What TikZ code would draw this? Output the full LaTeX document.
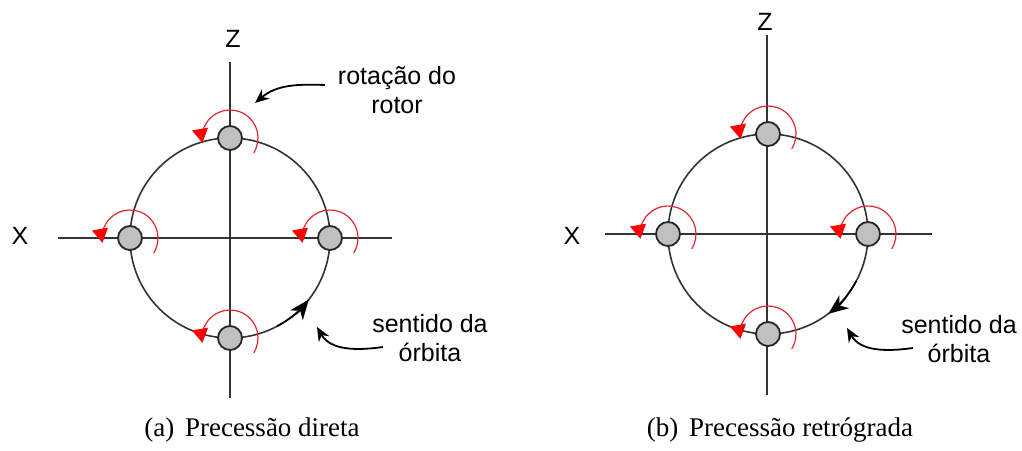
\documentclass[tikz,border=0pt]{standalone}
\usepackage{fontspec}
\setmainfont{Liberation Serif}
\newfontfamily\labelfont{Liberation Sans}
\usepackage{xcolor}
\definecolor{spinred}{RGB}{225,40,50}
\definecolor{ballgray}{RGB}{192,192,192}
\usepackage{tikz}
\usetikzlibrary{arrows.meta,positioning,calc}

\begin{document}
\begin{tikzpicture}[x=0.5pt, y=0.5pt, >=Stealth, line width=0.7pt]
    \tikzstyle{axis}=[draw=black!80, line width=0.8pt]
    \tikzstyle{ball}=[circle, draw=black!85, fill=ballgray, line width=0.9pt, minimum size=12pt, inner sep=0pt]
    \tikzstyle{spin}=[draw=spinred, line width=0.6pt, -{Triangle[length=7pt,width=8pt,color=red]}]
    \tikzstyle{orbitdir}=[draw=black, line width=0.8pt, -{Stealth[length=10pt,width=8pt,inset=3pt]}]
    \tikzstyle{pointer}=[->, line width=0.9pt, >={Stealth[length=7pt,width=6pt]}]
    \tikzstyle{lbl}=[font=\labelfont\fontsize{12.5}{14.5}\selectfont, align=center, inner sep=0pt]
    \tikzstyle{captext}=[font=\fontsize{13.5}{15}\selectfont, inner sep=0pt]
    \useasboundingbox (0,0) rectangle (1022,450);

    % (a) direct precession
    \coordinate (oA) at (230,212);
    \draw[axis] (230,52) -- (230,388);
    \draw[axis] (58,212) -- (392,212);
    \draw[axis] (oA) circle[radius=100];
    \node[lbl] (zA) at (233,411) {Z};
    \node[lbl] (xA) at (20,214) {X};
    \node[ball] (A1) at (330,212) {};
    \node[ball] (A2) at (230,312) {};
    \node[ball] (A3) at (130,212) {};
    \node[ball] (A4) at (230,112) {};
    \foreach \b in {A1,A2,A3,A4}
        \draw[spin] ([shift={(-32:28)}]\b.center) arc[start angle=-32, end angle=190, radius=28];
    \draw[orbitdir] ([shift={(-62:100)}]oA) arc[start angle=-62, end angle=-38, radius=100];

    % Labels and pointers (a)
    \node[lbl] (rotA) at (397,360) {rotação do\\rotor};
    \coordinate (rotAtail) at (325,365);
    \coordinate (rotAtip) at (255,347);
    \draw[pointer] (rotAtail) to[out=178, in=40] (rotAtip);
    \node[lbl] (orbA) at (430,112) {sentido da\\órbita};
    \coordinate (orbAtail) at (383,103);
    \coordinate (orbAtip) at (317,123);
    \draw[pointer] (orbAtail) to[out=188, in=-60] (orbAtip);

    % (b) retrograde precession
    \coordinate (oB) at (768,216);
    \draw[axis] (767,55) -- (767,415);
    \draw[axis] (605,216) -- (932,216);
    \draw[axis] (oB) circle[radius=100];
    \node[lbl] (zB) at (765,428) {Z};
    \node[lbl] (xB) at (572,214) {X};
    \node[ball] (B1) at (868,216) {};
    \node[ball] (B2) at (768,316) {};
    \node[ball] (B3) at (668,216) {};
    \node[ball] (B4) at (768,116) {};
    \foreach \b in {B1,B2,B3,B4}
        \draw[spin] ([shift={(-32:28)}]\b.center) arc[start angle=-32, end angle=190, radius=28];
    \draw[orbitdir] ([shift={(-28:100)}]oB) arc[start angle=-28, end angle=-53, radius=100];

    % Labels and pointers (b)
    \node[lbl] (orbB) at (959,111) {sentido da\\órbita};
    \coordinate (orbBtail) at (913,102);
    \coordinate (orbBtip) at (847,122);
    \draw[pointer] (orbBtail) to[out=188, in=-60] (orbBtip);

    % Captions
    \node[captext] (capA) at (252,20) {(a)\hspace{0.4em}Precessão direta};
    \node[captext] (capB) at (780,20) {(b)\hspace{0.4em}Precessão retrógrada};
\end{tikzpicture}
\end{document}
